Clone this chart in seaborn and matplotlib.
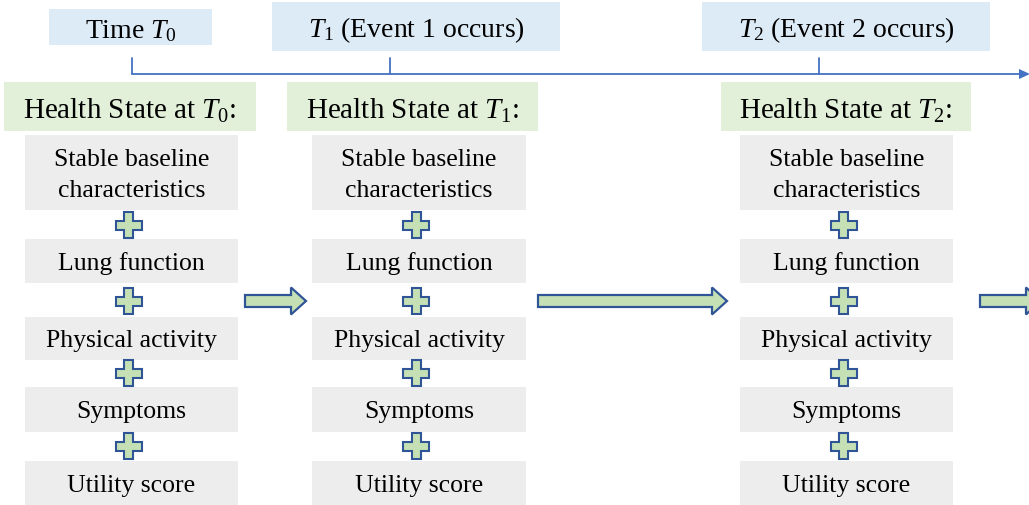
import matplotlib.pyplot as plt
import seaborn as sns
from matplotlib.patches import Rectangle, FancyArrow, Polygon

# Diagram content
time_labels = [r'Time $T_0$', r'$T_1$ (Event 1 occurs)', r'$T_2$ (Event 2 occurs)']
state_headers = [r'Health State at $T_0$:', r'Health State at $T_1$:', r'Health State at $T_2$:']
components = ['Stable baseline\ncharacteristics', 'Lung function',
              'Physical activity', 'Symptoms', 'Utility score']

# Layout (pixel coordinates, y downward)
time_boxes = [(49, 212, 10, 46), (272, 560, 3, 52), (702, 990, 3, 52)]
tick_x = [132, 390, 819]
header_boxes = [(4, 256), (287, 538), (721, 971)]
columns = [(25, 238), (312, 526), (740, 953)]
rows = [(136, 211), (240, 284), (318, 361), (388, 433), (462, 506)]
plus_y = [226, 302, 374, 447]
arrows = [(245, 306), (538, 727), (980, 1041)]

sns.set_theme(style='white')
plt.rcParams['font.family'] = ['Liberation Serif', 'DejaVu Serif']
plt.rcParams['mathtext.fontset'] = 'custom'
plt.rcParams['mathtext.rm'] = 'Liberation Serif'
plt.rcParams['mathtext.it'] = 'Liberation Serif:italic'

blue_box = '#DDEBF7'
green_box = '#E2F0D9'
grey_box = '#EDEDED'
arrow_fill = '#C5E0B4'
arrow_edge = '#2F5597'
line_col = '#4472C4'

fig = plt.figure(figsize=(10.29, 5.06), dpi=100)
ax = fig.add_axes([0, 0, 1, 1])
ax.set_xlim(0, 1029)
ax.set_ylim(506, 0)
ax.axis('off')

# Time labels
for label, (x0, x1, y0, y1) in zip(time_labels, time_boxes):
    ax.add_patch(Rectangle((x0, y0), x1 - x0, y1 - y0, color=blue_box, lw=0))
    ax.text((x0 + x1) / 2, (y0 + y1) / 2 + 3, label, ha='center', va='center',
            fontsize=20, color='black')

# Timeline
ax.plot([tick_x[0], tick_x[0], 1020], [59, 75, 75], color=line_col, lw=1.3,
        solid_joinstyle='miter')
for tx in tick_x[1:]:
    ax.plot([tx, tx], [59, 75], color=line_col, lw=1.3)
ax.add_patch(Polygon([(1019, 70), (1030, 75), (1019, 80)], closed=True,
                     color=line_col, lw=0))

# Health state columns
for header, (hx0, hx1), (cx0, cx1) in zip(state_headers, header_boxes, columns):
    ax.add_patch(Rectangle((hx0, 83), hx1 - hx0, 49, color=green_box, lw=0))
    ax.text((hx0 + hx1) / 2, 111, header, ha='center', va='center',
            fontsize=21, color='black')
    cx = (cx0 + cx1) / 2
    for comp, (ry0, ry1) in zip(components, rows):
        ax.add_patch(Rectangle((cx0, ry0), cx1 - cx0, ry1 - ry0,
                               color=grey_box, lw=0))
        ax.text(cx, (ry0 + ry1) / 2 + 2, comp, ha='center', va='center',
                fontsize=18.5, linespacing=1.5, color='black')
    # plus signs between components
    px = cx - 3
    for py in plus_y:
        a, b = 13, 4.5
        pts = [(px - b, py - a), (px + b, py - a), (px + b, py - b),
               (px + a, py - b), (px + a, py + b), (px + b, py + b),
               (px + b, py + a), (px - b, py + a), (px - b, py + b),
               (px - a, py + b), (px - a, py - b), (px - b, py - b)]
        ax.add_patch(Polygon(pts, closed=True, facecolor=arrow_fill,
                             edgecolor=arrow_edge, lw=1.5))

# Transition arrows
for x0, x1 in arrows:
    ax.add_patch(FancyArrow(x0, 302, x1 - x0, 0, width=12, head_width=27,
                            head_length=15, length_includes_head=True,
                            facecolor=arrow_fill, edgecolor=arrow_edge, lw=1.6))

fig.savefig('out.png', dpi=100)
